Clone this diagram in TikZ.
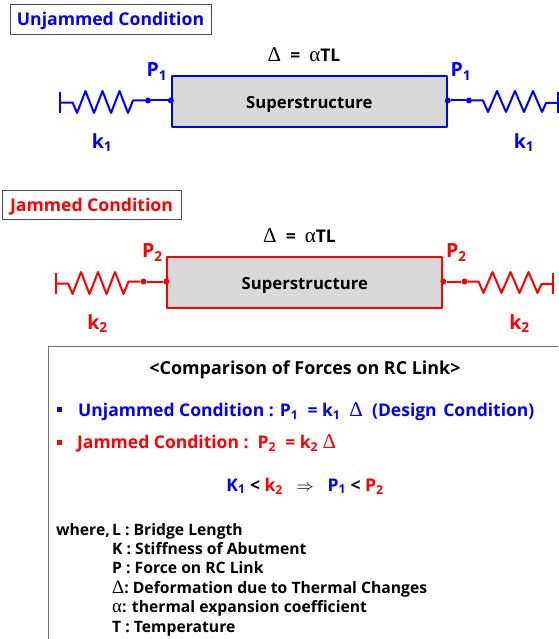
\documentclass[tikz,border=0pt]{standalone}
\usepackage{fontspec}
\setmainfont{Open Sans}
\newfontfamily\grkfont[Scale=1.2]{Liberation Serif}
\newcommand{\grk}[1]{{\mdseries\grkfont #1}}
\newcommand{\ssub}[1]{\textsubscript{#1}}
\newcommand{\sized}[1]{\fontsize{#1}{#1}\selectfont}
\tikzset{
  label/.style={inner sep=0pt,font=\bfseries\sized{17.5}},
  bigl/.style={inner sep=0pt,font=\bfseries\sized{19.5}},
  headbox/.style={draw=black!70,line width=0.8pt,fill=white,inner sep=0pt,text depth=0pt,font=\bfseries\sized{17.6}},
  joint/.style={circle,fill,inner sep=0pt,minimum size=6pt}
}
\begin{document}
\begin{tikzpicture}[x=1pt,y=-1pt,line join=round]
    \useasboundingbox (0,0) rectangle (558,639);
    % Titel
    \node[headbox,text=blue,minimum width=201pt,minimum height=30pt] (head1) at (110.5,19) {Unjammed Condition};
    \node[headbox,text=red,minimum width=179pt,minimum height=29pt] (head2) at (91.5,204.5) {Jammed Condition};
    % Systeme
    \foreach \dx/\dy/\col/\n in {0/0/blue/1,-4.5/181/red/2}{
      \begin{scope}[shift={(\dx,\dy)},draw=\col,text=\col]
        \node[draw=\col,line width=2pt,fill=black!15,minimum width=275pt,minimum height=51pt,inner sep=0pt] (box\n) at (309.3,101.5) {};
        \node[label,text=black,font=\bfseries\sized{16.7}] (name\n) at (309.3,104.5) {Superstructure};
        \node[label,text=black] (delta\n) at (304,55) {\grk{Δ}\ \ =\ \ \grk{α}TL};
        \coordinate (wallL\n) at (60,102.7); \coordinate (wallR\n) at (557.5,103);
        \node[joint,fill=\col] (jointL\n) at (148,100.5) {};
        \node[joint,fill=\col] (edgeL\n) at (box\n.west |- jointL\n) {};
        \node[joint,fill=\col] (jointR\n) at (469,100.5) {};
        \node[joint,fill=\col] (edgeR\n) at (box\n.east |- jointR\n) {};
        \draw[\col,line width=2pt] (jointL\n) -- (edgeL\n) (jointR\n) -- (edgeR\n);
        % Federn
        \draw[\col,line width=2pt] (60,92) -- (60,113);
        \draw[\col,line width=2pt] (wallL\n) -- ++(12.7,0) -- ++(4.3,10.3)
          \foreach \i in {1,2,3}{ -- ++(8.5,-22) -- ++(8.5,22) } -- ++(5,-12.5) -- (jointL\n);
        \draw[\col,line width=2pt] (557.5,92) -- (557.5,113);
        \draw[\col,line width=2pt] (jointR\n) -- ++(14,0) -- ++(5,11.5)
          \foreach \i in {1,2,3}{ -- ++(9,-21) -- ++(9,21) } -- ++(4,-9) -- (wallR\n);
        % Beschriftungen
        \node[bigl] (pL\n) at (157,71.5) {P\ssub{\n}};
        \node[bigl] (pR\n) at (461,71.5) {P\ssub{\n}};
        \node[bigl] (kL\n) at (102,143) {k\ssub{\n}};
        \node[bigl] (kR\n) at (524,143) {k\ssub{\n}};
      \end{scope}
    }
    % Vergleich
    \coordinate (frameA) at (558,346); \coordinate (frameB) at (48,346); \coordinate (frameC) at (48,639);
    \draw[black!55,line width=0.8pt] (frameA) -- (frameB) -- (frameC);
    \node[label,font=\bfseries\sized{17.9}] (title) at (305,369.5) {<Comparison of Forces on RC Link>};
    \node[fill=blue,inner sep=0pt,minimum size=5pt] (markA) at (59,409.5) {};
    \node[fill=red,inner sep=0pt,minimum size=5pt] (markB) at (59,442) {};
    \node[label,anchor=west,text=blue] (lineA) at (78,411.5) {Unjammed Condition : P\ssub{1} \ =\ k\ssub{1} \ \grk{Δ}\ \ (Design\hspace{2pt} Condition)};
    \node[label,anchor=west,text=red] (lineB) at (77,443.5) {Jammed Condition :\ \ P\ssub{2} \ = k\ssub{2} \grk{Δ}};
    \node[label] (lineC) at (305,486) {\textcolor{blue}{K\ssub{1}} < \textcolor{red}{k\ssub{2}} \ \ $\Rightarrow$\ \ \ \textcolor{blue}{P\ssub{1}} < \textcolor{red}{P\ssub{2}}};
    % Legende
    \tikzset{legend/.style={inner sep=0pt,anchor=base west,font=\bfseries\sized{15.7}}}
    \node[legend] (where) at (56,535) {where,};
    \foreach \y/\txt [count=\i] in {535/L : Bridge Length,554/K : Stiffness of Abutment,573/P : Force on RC Link,593/\grk{Δ}: Deformation due to Thermal Changes,612/\grk{α}: thermal expansion coefficient,632/T : Temperature}{
      \node[legend] (item\i) at (112,\y) {\txt};
    }
\end{tikzpicture}
\end{document}
